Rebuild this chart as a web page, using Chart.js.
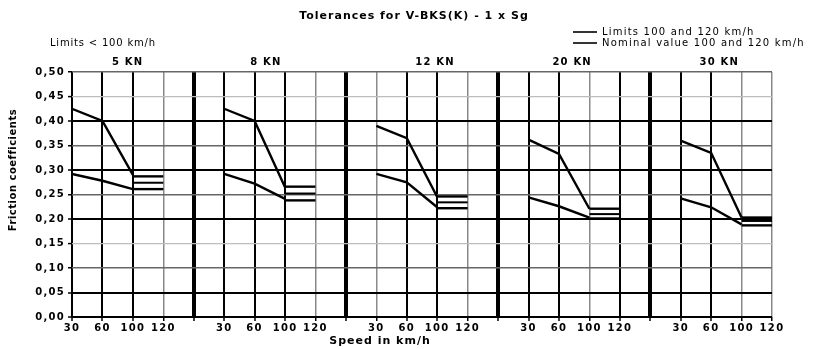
<!DOCTYPE html>
<html>
<head>
<meta charset="utf-8">
<script src="https://cdn.jsdelivr.net/npm/chart.js@4/dist/chart.umd.min.js"></script>
<style>
html,body{margin:0;padding:0;background:#fff;}
#wrap{width:832px;height:349px;position:relative;}
</style>
</head>
<body>
<div id="wrap"><canvas id="c" width="832" height="349"></canvas></div>
<script>
// ---------- data ----------
const chartTitle = 'Tolerances for V-BKS(K) - 1 x Sg';
const noteText = 'Limits < 100 km/h';
const legendLabels = ['Limits 100 and 120 km/h', 'Nominal value 100 and 120 km/h'];
const xAxisTitle = 'Speed in km/h';
const yAxisTitle = 'Friction coefficients';
const panels = ['5 KN', '8 KN', '12 KN', '20 KN', '30 KN'];
const speeds = ['30', '60', '100', '120'];
const yTickValues = [0, 0.05, 0.10, 0.15, 0.20, 0.25, 0.30, 0.35, 0.40, 0.45, 0.50];
// limit curves below 100 km/h, at 30, 60, 100 km/h
const upperBelow100 = [
  [0.425, 0.400, 0.290],
  [0.425, 0.400, 0.265],
  [0.390, 0.365, 0.245],
  [0.362, 0.333, 0.221],
  [0.360, 0.335, 0.203]
];
const lowerBelow100 = [
  [0.292, 0.278, 0.261],
  [0.292, 0.272, 0.241],
  [0.292, 0.275, 0.224],
  [0.244, 0.226, 0.203],
  [0.242, 0.224, 0.189]
];
// limits and nominal value at 100 and 120 km/h
const upperLimit100to120 = [0.287, 0.266, 0.246, 0.221, 0.203];
const nominal100to120   = [0.274, 0.252, 0.234, 0.210, 0.196];
const lowerLimit100to120 = [0.261, 0.238, 0.222, 0.201, 0.187];

// ---------- layout (pixels) ----------
const panelLabelShift = [10, -4, 13, -2, -7];

// ---------- construction ----------
const slotsPerPanel = speeds.length + 1;
const xMax = (panels.length - 1) * slotsPerPanel + speeds.length - 1;
const slot = (p, s) => p * slotsPerPanel + s;

const datasets = [];
const lineStyle = {borderColor: '#000', borderWidth: 2.4, pointRadius: 0, showLine: true, fill: false, tension: 0};
panels.forEach((name, p) => {
  datasets.push(Object.assign({label: name + ' upper', data: upperBelow100[p].map((v, s) => ({x: slot(p, s), y: v}))}, lineStyle));
  datasets.push(Object.assign({label: name + ' lower', data: lowerBelow100[p].map((v, s) => ({x: slot(p, s), y: v}))}, lineStyle));
  datasets.push(Object.assign({label: name + ' limit hi', data: [2, 3].map(s => ({x: slot(p, s), y: upperLimit100to120[p]}))}, lineStyle));
  datasets.push(Object.assign({label: name + ' nominal', data: [2, 3].map(s => ({x: slot(p, s), y: nominal100to120[p]}))}, lineStyle, {borderWidth: 2}));
  datasets.push(Object.assign({label: name + ' limit lo', data: [2, 3].map(s => ({x: slot(p, s), y: lowerLimit100to120[p]}))}, lineStyle));
});

// grid styles
const vStyle = i => {
  if (i % slotsPerPanel === slotsPerPanel - 1) return {c: '#000', w: 4};
  const dotted = [3, 8, 10, 13, 17, 22, 23];
  if (dotted.includes(i)) return {c: '#8a8a8a', w: 1.5};
  return {c: '#000', w: 2};
};
const hStyle = i => {
  const solid = [0, 1, 4, 6, 8];
  const mid = [2, 5, 7, 10];
  if (solid.includes(i)) return {c: '#000', w: 2};
  if (mid.includes(i)) return {c: '#666', w: 1.5};
  return {c: '#bdbdbd', w: 1.2};
};

const FONT = '"DejaVu Sans", "Liberation Sans", Arial, sans-serif';

const textPlugin = {
  id: 'texts',
  beforeDraw(chart) {
    chart.ctx.letterSpacing = '1.3px';
  },
  afterDraw(chart) {
    const ctx = chart.ctx;
    const xs = chart.scales.x;
    ctx.save();
    ctx.fillStyle = '#000';
    ctx.textBaseline = 'middle';
    // title
    ctx.font = 'bold 11px ' + FONT;
    ctx.letterSpacing = '1px';
    ctx.textAlign = 'center';
    ctx.fillText(chartTitle, 414, 16);
    // note
    ctx.font = '10px ' + FONT;
    ctx.letterSpacing = '0.8px';
    ctx.textAlign = 'left';
    ctx.fillText(noteText, 50, 43);
    // legend
    legendLabels.forEach((t, k) => {
      const y = 32 + k * 11;
      ctx.strokeStyle = '#000';
      ctx.lineWidth = 1.6;
      ctx.beginPath(); ctx.moveTo(573, y); ctx.lineTo(597, y); ctx.stroke();
      ctx.font = '10px ' + FONT;
      ctx.letterSpacing = '1.2px';
      ctx.fillText(t, 602, y);
    });
    // panel labels
    ctx.font = 'bold 10px ' + FONT;
    ctx.letterSpacing = '1.2px';
    ctx.textAlign = 'center';
    panels.forEach((t, p) => {
      ctx.fillText(t, xs.getPixelForValue(slot(p, 1.5)) + panelLabelShift[p], 62);
    });
    // x title
    ctx.font = 'bold 11px ' + FONT;
    ctx.letterSpacing = '1px';
    ctx.fillText(xAxisTitle, 380, 341);
    // y title
    ctx.save();
    ctx.translate(13, 170);
    ctx.rotate(-Math.PI / 2);
    ctx.font = 'bold 10px ' + FONT;
    ctx.letterSpacing = '0.5px';
    ctx.fillText(yAxisTitle, 0, 0);
    ctx.restore();
    ctx.restore();
  }
};

new Chart(document.getElementById('c'), {
  type: 'scatter',
  data: {datasets},
  options: {
    responsive: false,
    animation: false,
    devicePixelRatio: 1,
    layout: {padding: {left: 0, right: 60, top: 72, bottom: 0}},
    plugins: {legend: {display: false}, tooltip: {enabled: false}, title: {display: false}},
    scales: {
      x: {
        type: 'linear', min: 0, max: xMax,
        afterBuildTicks(s) { s.ticks = Array.from({length: xMax + 1}, (_, v) => ({value: v})); },
        afterFit(s) { s.height = 32; },
        ticks: {
          autoSkip: false, maxRotation: 0, minRotation: 0, color: '#000', padding: 1,
          font: {family: FONT, size: 10, weight: 'bold'},
          callback: v => speeds[v % slotsPerPanel] || ''
        },
        grid: {
          color: c => vStyle(c.index).c,
          lineWidth: c => vStyle(c.index).w,
          tickColor: '#000', tickLength: 4, tickWidth: 1.5
        },
        border: {display: false}
      },
      y: {
        min: 0, max: 0.5,
        afterBuildTicks(s) { s.ticks = yTickValues.map(v => ({value: v})); },
        afterFit(s) { s.width = 72; },
        ticks: {
          color: '#000', padding: 3,
          font: {family: FONT, size: 10, weight: 'bold'},
          callback: v => v.toFixed(2).replace('.', ',')
        },
        grid: {
          color: c => hStyle(c.index).c,
          lineWidth: c => hStyle(c.index).w,
          tickColor: '#000', tickLength: 4, tickWidth: 1.5
        },
        border: {display: false}
      }
    }
  },
  plugins: [textPlugin]
});
</script>
</body>
</html>
